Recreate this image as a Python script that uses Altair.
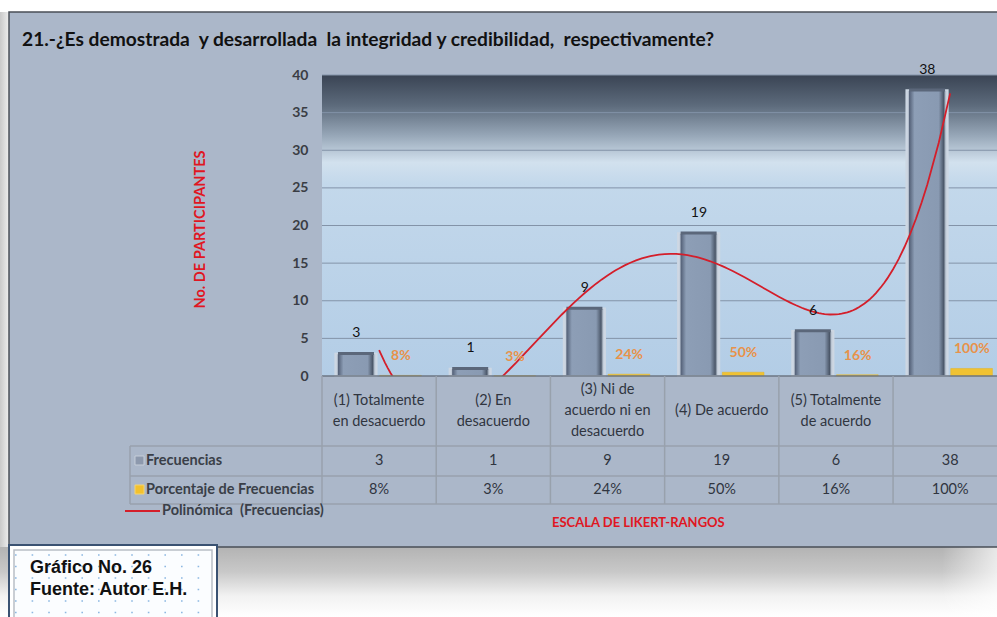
import altair as alt
import pandas as pd

# Likert categories (last column holds the total)
categorias = [
    "(1) Totalmente\nen desacuerdo",
    "(2) En\ndesacuerdo",
    "(3) Ni de\nacuerdo ni en\ndesacuerdo",
    "(4) De acuerdo",
    "(5) Totalmente\nde acuerdo",
    "",
]
frecuencias = [3, 1, 9, 19, 6, 38]
porcentajes = [0.08, 0.03, 0.24, 0.50, 0.16, 1.00]
ticks_y = [0, 5, 10, 15, 20, 25, 30, 35, 40]
lineas_grid = [5, 10, 15, 20, 25, 30, 35, 40]

NB = "\u00a0"
titulo = ("21.-\u00bfEs demostrada" + NB + " y desarrollada" + NB
          + " la integridad y credibilidad," + NB + " respectivamente?")
titulo_y = "No. DE PARTICIPANTES"
titulo_x = "ESCALA DE LIKERT-RANGOS"
fila_frec = "Frecuencias"
fila_pct = "Porcentaje de Frecuencias"
leyenda_tendencia = "Polin\u00f3mica" + NB + " (Frecuencias)"
nota_1 = "Gr\u00e1fico No. 26"
nota_2 = "Fuente: Autor E.H."

W, H = 675, 301
FONT = "Lato"

df = pd.DataFrame({
    "pos": list(range(1, len(frecuencias) + 1)),
    "cat": categorias,
    "frec": frecuencias,
    "pct": porcentajes,
})
grid_df = pd.DataFrame({"v": lineas_grid})
one = alt.Data(values=[{}])

xs = alt.Scale(domain=[0.5, 6.41], nice=False, zero=False)
ys = alt.Scale(domain=[0, 40], nice=False, zero=True)
y_axis = alt.Axis(
    values=ticks_y, grid=False, domain=False, ticks=False,
    labelFont=FONT, labelFontSize=14, labelFontWeight="bold",
    labelColor="#3a3d44", labelPadding=14,
    title=titulo_y, titleColor="#e01622", titleFont=FONT, titleFontSize=14.5,
    titleFontWeight="bold", titleAngle=270, titleX=-122, titleY=154,
    titleBaseline="middle", titleAlign="center", zindex=1,
)


def X(field, **kw):
    return alt.X(field, type="quantitative", scale=xs, axis=None, **kw)


def Y(field):
    return alt.Y(field, type="quantitative", scale=ys, axis=y_axis, title=titulo_y)


def grad(stops, vertical=True):
    return alt.LinearGradient(
        gradient="linear",
        stops=[alt.GradientStop(color=c, offset=o) for o, c in stops],
        x1=0, x2=0 if vertical else 1, y1=0, y2=1 if vertical else 0,
    )


def box(x1, x2, y1, y2, **mark):
    return alt.Chart(one).mark_rect(**mark).encode(
        x=alt.value(x1), x2=alt.value(x2), y=alt.value(y1), y2=alt.value(y2)
    )


def label(text, x, y, **mark):
    return alt.Chart(one).mark_text(text=text, **mark).encode(
        x=alt.value(x), y=alt.value(y)
    )


def hrule(x1, x2, y, **mark):
    return alt.Chart(one).mark_rule(**mark).encode(
        x=alt.value(x1), x2=alt.value(x2), y=alt.value(y)
    )


# page surroundings and chart frame
fondo_izq = box(-322, -313, -63, 472, fill=grad([(0, "#c9c9c9"), (1, "#eeeeee")], vertical=False))
sombra = box(-322, 700, 472, 542, fill=grad([(0, "#b3b3b3"), (0.35, "#c8c8c8"), (0.7, "#f2f2f2"), (1, "#ffffff")]))
sombra_fin = box(620, 700, 472, 542, fill=grad([(0, "rgba(255,255,255,0)"), (1, "#ffffff")], vertical=False))
marco = box(-313, 720, -63, 472, fill="#abb7c9", stroke="#4a4f57", strokeWidth=1.5)

# plot area gradient
area = box(0, W, 0, H, fill=grad([
    (0.0, "#3a4454"), (0.1, "#5c6a7b"), (0.2, "#96a6b7"),
    (0.29, "#d2e1ee"), (0.36, "#c3d8eb"), (1.0, "#b3cde6"),
]))

grid = alt.Chart(grid_df).mark_rule(color="#8393a8", strokeWidth=1).encode(
    y=Y("v"), x=alt.value(0), x2=alt.value(W)
)

# bars
barras = alt.Chart(df).transform_calculate(
    x0="datum.pos - 0.385", x1="datum.pos - 0.02"
).mark_rect(
    fill=grad([
        (0.0, "#d3dce7"), (0.05, "#c5cfdc"), (0.08, "#56637a"),
        (0.2, "#8d9eb6"), (0.78, "#899ab2"), (0.9, "#4b5769"),
        (0.95, "#c0cbd8"), (1.0, "#d6dee8"),
    ], vertical=False),
    stroke="#cdd7e3", strokeWidth=1.5,
).encode(x=X("x0"), x2="x1:Q", y=Y("frec"), y2=alt.datum(0))

tapa = alt.Chart(df).transform_calculate(
    x0="datum.pos - 0.36", x1="datum.pos - 0.045"
).mark_rule(color="#5b677a", strokeWidth=3).encode(
    x=X("x0"), x2="x1:Q", y=Y("frec")
)

barras_pct = alt.Chart(df).transform_calculate(
    x0="datum.pos + 0.005", x1="datum.pos + 0.37"
).mark_rect(fill="#f0c232", stroke="#e4b424", strokeWidth=0.5).encode(
    x=X("x0"), x2="x1:Q", y=Y("pct"), y2=alt.datum(0)
)

etiq_frec = alt.Chart(df).transform_calculate(xc="datum.pos - 0.2").mark_text(
    font=FONT, fontSize=14, color="#111111", dy=-20, baseline="middle"
).encode(x=X("xc"), y=Y("frec"), text="frec:Q")

etiq_pct = alt.Chart(df).transform_calculate(xc="datum.pos + 0.19").mark_text(
    font=FONT, fontSize=14, fontWeight="bold", color="#e8924a", dy=-19, baseline="middle"
).encode(x=X("xc"), y=Y("pct"), text=alt.Text("pct:Q", format=".0%"))

# polynomial trendline (order 4) of the frequencies
tendencia = alt.Chart(df).transform_regression(
    "pos", "frec", method="poly", order=4
).mark_line(color="#d41e2a", strokeWidth=1.8, clip=True).encode(
    x=X("pos"), y=Y("frec")
)

# data table under the plot
TC = "#98a1ac"
base = hrule(0, W, H, color="#6d7683", strokeWidth=1.5)
hlineas = [hrule(-192, W, yy, color=TC, strokeWidth=1.5) for yy in (371, 401, 429)]
vlineas = alt.Chart(df).transform_calculate(b="datum.pos - 0.5").mark_rule(
    color=TC, strokeWidth=1.5
).encode(x=X("b"), y=alt.value(H), y2=alt.value(429))
borde_izq = alt.Chart(one).mark_rule(color=TC, strokeWidth=1.5).encode(
    x=alt.value(-192), y=alt.value(371), y2=alt.value(429)
)

# multi-line category names, centred vertically in their row
txt_cat = alt.Chart(df).transform_calculate(
    off="-(length(split(datum.cat, '\\n')) - 1) * 10.5"
).mark_text(
    font=FONT, fontSize=14.5, color="#30353f", lineBreak="\n", lineHeight=21,
    baseline="middle", dy=alt.expr("datum.off"),
).encode(x=X("pos"), y=alt.value(336), text="cat:N")
txt_frec = alt.Chart(df).mark_text(
    font=FONT, fontSize=14.5, color="#30353f", baseline="middle"
).encode(x=X("pos"), y=alt.value(386), text="frec:Q")
txt_pct = alt.Chart(df).mark_text(
    font=FONT, fontSize=14.5, color="#30353f", baseline="middle"
).encode(x=X("pos"), y=alt.value(415), text=alt.Text("pct:Q", format=".0%"))

hdr_style = dict(font=FONT, fontSize=14.5, fontWeight="bold", color="#3a3f48",
                 align="left", baseline="middle")
hdr_frec = label(fila_frec, -176, 386, **hdr_style)
hdr_pct = label(fila_pct, -176, 415, **hdr_style)
ico_frec = box(-187, -178, 381, 390, fill="#8d99ad", stroke="#c6ced9", strokeWidth=1)
ico_pct = box(-187, -178, 410, 419, fill="#f2c12e", stroke="#f6d570", strokeWidth=1)

ley_linea = hrule(-197, -162, 436, color="#d41e2a", strokeWidth=1.8)
ley_txt = label(leyenda_tendencia, -160, 436, font=FONT, fontSize=14.5,
                fontWeight="bold", color="#3a3f48", align="left", baseline="middle")

eje_x = label(titulo_x, 230, 448, font=FONT, fontSize=13, fontWeight="bold",
              color="#e01622", align="left", baseline="middle")
tit = label(titulo, -300, -35, font=FONT, fontSize=19.2, fontWeight="bold",
            color="#111111", align="left", baseline="middle")

# caption box with a dotted fill
nota_caja = box(-313, -105, 470, 545, fill="#ffffff", stroke="#3a5272", strokeWidth=2)
nota_bisel = box(-308, -110, 475, 545, fill="#fbfdff", stroke="#b9bec6", strokeWidth=1.5)
puntos = [
    hrule(-307, -110, yy, color="#8db8e2", strokeWidth=1.6, strokeDash=[1.6, 15])
    for yy in (480, 491.5, 503, 514.5, 526, 537.5)
]
nota_style = dict(font="Liberation Sans", fontSize=18, fontWeight="bold",
                  color="#111111", align="left", baseline="middle")
nota_a = label(nota_1, -292, 493, **nota_style)
nota_b = label(nota_2, -292, 515, **nota_style)

chart = alt.layer(
    fondo_izq, sombra, sombra_fin, marco, area, grid, barras, tapa, barras_pct,
    tendencia, etiq_frec, etiq_pct, base, *hlineas, vlineas, borde_izq,
    txt_cat, txt_frec, txt_pct, ico_frec, ico_pct, hdr_frec, hdr_pct,
    ley_linea, ley_txt, eje_x, tit, nota_caja, nota_bisel, *puntos, nota_a, nota_b,
).properties(
    width=W, height=H,
    autosize=alt.AutoSizeParams(type="none"),
    padding={"left": 322, "top": 75, "right": 0, "bottom": 241},
    background="#ffffff",
).configure_view(stroke=None)

chart.save("out.html", embed_options={"renderer": "svg", "actions": False})
